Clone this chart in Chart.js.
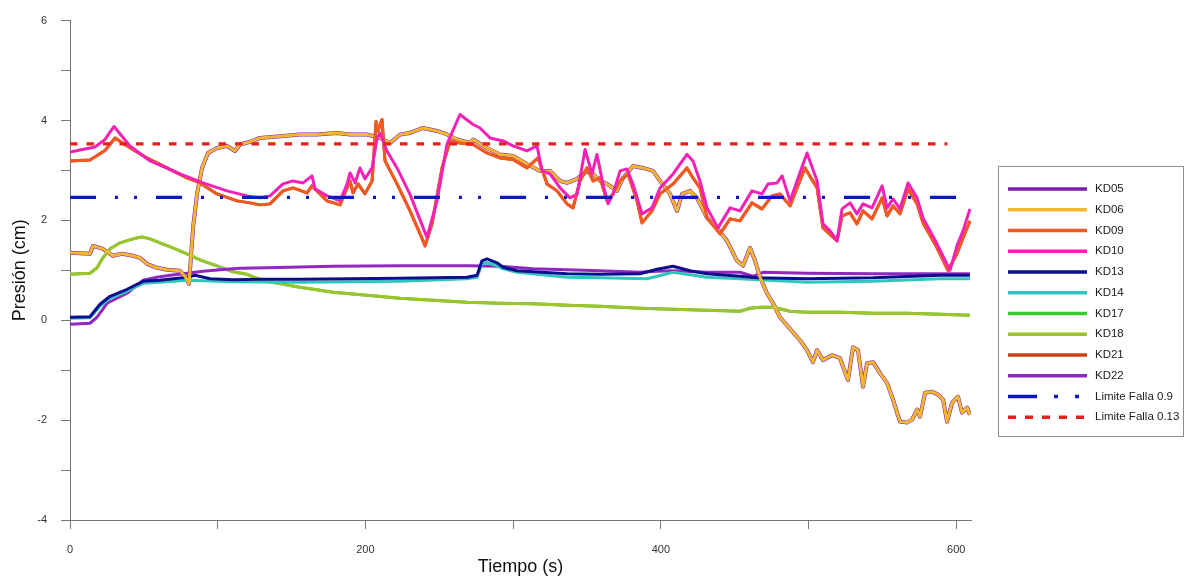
<!DOCTYPE html>
<html>
<head>
<meta charset="utf-8">
<title>Presión vs Tiempo</title>
<script src="https://cdn.jsdelivr.net/npm/chart.js@4.4.1/dist/chart.umd.min.js"></script>
<style>
    html, body { margin: 0; padding: 0; background: #fff; }
    #wrap { width: 1184px; height: 578px; position: relative; }
</style>
</head>
<body>
<div id="wrap"><canvas id="presionChart"></canvas></div>
<script>
// --- Data ---
const kd06T = [0, 13.5, 15.6, 22.3, 29.1, 35.2, 42.7, 47.4, 52.1, 58.9, 65.7, 74.5, 78.5, 80.6, 83.3, 86.0, 89.4, 93.4, 99.5, 106.3,
    111.7, 115.1, 123.9, 128.6, 144.2, 155.7, 167.2, 180.8, 189.6, 201.1, 209.9, 216.7, 223.4, 230.2, 239.0, 248.5, 255.2, 262.0, 270.8, 272.9,
    282.3, 291.1, 299.9, 309.4, 318.2, 325.0, 331.8, 336.5, 343.3, 350.0, 354.1, 358.8, 363.6, 370.3, 374.4, 381.2, 387.9, 394.7, 399.5, 406.2,
    411.0, 414.4, 419.8, 424.5, 431.3, 438.1, 444.8, 451.6, 455.7, 460.4, 463.8, 467.2, 471.9, 476.0, 480.7, 485.4, 489.5, 494.2, 499.0, 503.0,
    505.8, 509.8, 515.9, 521.3, 526.7, 530.1, 533.5, 536.9, 539.6, 543.7, 548.4, 553.2, 557.2, 561.9, 566.7, 570.1, 573.5, 575.5, 578.9, 583.6,
    587.7, 591.1, 593.8, 597.2, 601.2, 603.9, 607.3, 609.3];
const kd06V = [1.35, 1.33, 1.49, 1.43, 1.29, 1.33, 1.29, 1.25, 1.13, 1.05, 1.01, 0.99, 0.85, 0.73, 1.85, 2.53, 3.05, 3.35, 3.45, 3.49,
    3.39, 3.52, 3.59, 3.65, 3.69, 3.72, 3.72, 3.75, 3.72, 3.72, 3.65, 3.55, 3.72, 3.75, 3.85, 3.79, 3.72, 3.62, 3.55, 3.62,
    3.45, 3.32, 3.29, 3.13, 2.99, 2.99, 2.79, 2.75, 2.83, 2.99, 2.93, 2.79, 2.73, 2.59, 2.85, 3.09, 3.05, 2.99, 2.79, 2.53,
    2.19, 2.53, 2.59, 2.45, 2.05, 1.85, 1.59, 1.19, 1.09, 1.45, 1.19, 0.86, 0.54, 0.34, 0.06, -0.10, -0.24, -0.40, -0.60, -0.84,
    -0.60, -0.80, -0.70, -0.76, -1.20, -0.54, -0.60, -1.33, -0.86, -0.84, -1.06, -1.26, -1.59, -2.03, -2.05, -1.99, -1.79, -1.93, -1.45, -1.43,
    -1.49, -1.59, -2.03, -1.65, -1.53, -1.85, -1.75, -1.89];

const kd09T = [0, 13.5, 23.7, 30.5, 38.6, 52.1, 65.7, 79.2, 88.0, 99.5, 113.1, 121.9, 128.6, 135.4, 144.2, 151.0, 160.5, 163.8, 174.0, 182.8,
    189.6, 191.6, 195.0, 199.7, 204.5, 207.2, 208.5, 211.2, 213.3, 221.4, 230.2, 237.0, 240.4, 245.1, 251.9, 257.3, 264.0, 272.9, 282.3, 291.1,
    299.9, 309.4, 316.9, 323.0, 329.7, 336.5, 340.6, 345.3, 350.0, 354.1, 358.8, 363.6, 367.6, 372.4, 377.8, 383.9, 387.3, 394.0, 399.5, 408.3,
    417.7, 421.8, 426.5, 431.3, 440.1, 446.9, 453.6, 461.7, 468.5, 475.3, 480.7, 487.5, 492.2, 497.6, 505.8, 509.8, 519.3, 522.7, 528.1, 532.8,
    536.9, 543.0, 549.8, 553.2, 557.2, 561.9, 567.4, 573.5, 577.5, 587.0, 594.4, 600.5, 604.6, 609.3];
const kd09V = [3.19, 3.21, 3.40, 3.65, 3.49, 3.25, 3.05, 2.85, 2.75, 2.53, 2.39, 2.35, 2.31, 2.33, 2.59, 2.65, 2.55, 2.69, 2.39, 2.31,
    2.79, 2.55, 2.73, 2.53, 2.79, 3.98, 3.79, 4.02, 3.19, 2.73, 2.19, 1.73, 1.49, 1.93, 3.05, 3.59, 3.55, 3.52, 3.35, 3.25,
    3.22, 3.05, 3.25, 2.73, 2.59, 2.33, 2.25, 2.79, 3.05, 2.79, 2.85, 2.39, 2.53, 2.79, 2.93, 2.39, 1.95, 2.19, 2.53, 2.73,
    3.05, 2.85, 2.65, 2.05, 1.73, 2.03, 1.99, 2.35, 2.23, 2.49, 2.53, 2.29, 2.65, 3.05, 2.65, 1.85, 1.59, 2.09, 2.15, 1.93,
    2.19, 2.03, 2.45, 2.09, 2.29, 2.13, 2.63, 2.33, 1.95, 1.45, 1.00, 1.33, 1.65, 1.99];

const kd10T = [0, 16.9, 23.7, 29.8, 40.6, 54.2, 74.5, 90.0, 106.3, 119.8, 128.6, 135.4, 144.2, 151.0, 157.8, 163.8, 165.9, 174.0, 182.8, 187.5,
    189.6, 193.0, 196.3, 199.7, 204.5, 207.9, 209.9, 214.6, 221.4, 230.2, 239.0, 241.7, 248.5, 255.2, 264.0, 272.9, 277.6, 284.4, 293.2, 299.9,
    309.4, 316.2, 319.6, 325.0, 331.8, 338.5, 343.3, 348.7, 353.4, 356.8, 360.9, 364.3, 367.6, 372.4, 377.1, 381.2, 387.3, 394.0, 399.5, 408.3,
    417.7, 421.8, 426.5, 431.3, 438.7, 446.9, 453.6, 461.7, 468.5, 472.6, 478.7, 482.1, 487.5, 492.2, 499.0, 505.8, 509.8, 514.6, 519.3, 522.7,
    528.1, 532.8, 536.9, 543.0, 549.8, 553.2, 557.2, 561.9, 567.4, 573.5, 577.5, 587.0, 595.8, 600.5, 604.6, 609.3];
const kd10V = [3.37, 3.47, 3.62, 3.88, 3.49, 3.19, 2.93, 2.75, 2.59, 2.49, 2.45, 2.49, 2.73, 2.79, 2.75, 2.89, 2.63, 2.49, 2.39, 2.72,
    2.95, 2.75, 3.05, 2.83, 3.05, 3.65, 3.75, 3.39, 3.05, 2.52, 1.86, 1.66, 2.39, 3.52, 4.12, 3.92, 3.85, 3.65, 3.59, 3.49,
    3.39, 3.49, 2.99, 2.93, 2.65, 2.45, 2.52, 3.42, 2.93, 3.32, 2.72, 2.33, 2.52, 2.99, 3.03, 2.72, 2.13, 2.25, 2.65, 2.93,
    3.32, 3.19, 2.79, 2.25, 1.85, 2.25, 2.19, 2.59, 2.53, 2.73, 2.75, 2.89, 2.39, 2.79, 3.35, 2.79, 1.93, 1.79, 1.59, 2.23,
    2.35, 2.13, 2.33, 2.25, 2.69, 2.25, 2.43, 2.23, 2.75, 2.45, 2.05, 1.53, 1.00, 1.49, 1.79, 2.23];

const kd13T = [0, 13.5, 20.3, 27.1, 38.6, 49.4, 60.9, 79.2, 84.6, 94.8, 110.4, 128.6, 155.7, 223.4, 268.8, 275.6, 278.9, 282.3, 289.1, 293.2,
    302.6, 336.5, 358.8, 385.9, 397.4, 408.3, 419.8, 431.3, 453.6, 465.1, 499.0, 543.7, 589.0, 609.3];
const kd13V = [0.06, 0.07, 0.32, 0.48, 0.62, 0.78, 0.80, 0.86, 0.90, 0.83, 0.81, 0.82, 0.82, 0.84, 0.86, 0.90, 1.19, 1.23, 1.15, 1.06,
    0.99, 0.93, 0.92, 0.93, 1.02, 1.08, 0.99, 0.93, 0.88, 0.85, 0.83, 0.85, 0.90, 0.90];

const kd14T = [0, 13.5, 20.3, 27.1, 38.6, 49.4, 60.9, 79.2, 110.4, 155.7, 223.4, 268.8, 275.6, 278.9, 282.3, 289.1, 293.2, 302.6, 336.5, 358.8,
    390.7, 408.3, 431.3, 453.6, 499.0, 543.7, 589.0, 609.3];
const kd14V = [0.04, 0.05, 0.28, 0.44, 0.58, 0.74, 0.76, 0.80, 0.77, 0.76, 0.78, 0.83, 0.86, 1.13, 1.15, 1.09, 1.03, 0.96, 0.86, 0.85,
    0.83, 0.96, 0.86, 0.83, 0.76, 0.78, 0.83, 0.83];

const kd18T = [0, 13.5, 18.3, 22.3, 27.1, 33.9, 42.7, 48.7, 54.2, 60.9, 69.7, 79.2, 88.0, 99.5, 110.4, 119.8, 128.6, 133.4, 155.7, 178.1,
    201.1, 223.4, 245.8, 268.8, 291.1, 313.5, 336.5, 358.8, 385.9, 408.3, 431.3, 453.6, 460.4, 467.2, 476.0, 487.5, 499.0, 521.3, 543.7, 566.7,
    589.0, 609.3];
const kd18V = [0.92, 0.94, 1.05, 1.25, 1.43, 1.55, 1.63, 1.67, 1.63, 1.55, 1.45, 1.33, 1.21, 1.09, 0.97, 0.92, 0.82, 0.78, 0.66, 0.56,
    0.50, 0.44, 0.40, 0.36, 0.34, 0.33, 0.30, 0.28, 0.24, 0.22, 0.20, 0.18, 0.24, 0.26, 0.26, 0.18, 0.16, 0.16, 0.14, 0.14,
    0.12, 0.10];

const kd22T = [0, 13.5, 18.3, 25.1, 31.8, 38.6, 45.4, 49.4, 58.9, 67.7, 79.2, 90.0, 101.6, 115.1, 133.4, 178.1, 223.4, 268.8, 291.1, 313.5,
    336.5, 358.8, 385.9, 397.4, 408.3, 431.3, 453.6, 462.4, 469.2, 499.0, 543.7, 589.0, 609.3];
const kd22V = [-0.08, -0.06, 0.06, 0.34, 0.44, 0.54, 0.70, 0.80, 0.86, 0.90, 0.94, 0.98, 1.01, 1.04, 1.05, 1.08, 1.09, 1.09, 1.08, 1.03,
    1.01, 0.99, 0.96, 0.98, 0.99, 0.96, 0.96, 0.88, 0.96, 0.94, 0.93, 0.93, 0.93];

// KD05 runs under KD06, KD17 under KD18, KD21 under KD09
const kd05T = kd06T, kd05V = kd06V;
const kd17T = kd18T, kd17V = kd18V;
const kd21T = kd09T, kd21V = kd09V;

const limit09T = [0, 600];
const limit09V = [2.46, 2.46];
const limit013T = [0, 594];
const limit013V = [3.53, 3.53];

const seriesLabels = ['KD05', 'KD06', 'KD09', 'KD10', 'KD13', 'KD14', 'KD17', 'KD18', 'KD21', 'KD22', 'Limite Falla 0.9', 'Limite Falla 0.13'];
const xTickMarks = [0, 100, 200, 300, 400, 500, 600];
const xTicks = [0, 200, 400, 600];
const yTicks = [-4, -2, 0, 2, 4, 6];

// --- Helpers ---
function toPoints(ts, vs) {
    return ts.map((t, i) => ({ x: t, y: vs[i] }));
}

function makeSeries(label, ts, vs, color, order, width) {
    return {
        label: label,
        data: toPoints(ts, vs),
        borderColor: color,
        borderWidth: width || 3,
        order: order
    };
}

const datasets = [
    makeSeries('KD05', kd05T, kd05V, '#7b1fa8', 10, 4),
    makeSeries('KD06', kd06T, kd06V, '#f3b631', 3),
    makeSeries('KD09', kd09T, kd09V, '#f25a22', 2),
    makeSeries('KD10', kd10T, kd10V, '#f321b6', 1),
    makeSeries('KD13', kd13T, kd13V, '#0d0d8e', 5),
    makeSeries('KD14', kd14T, kd14V, '#30c6be', 6),
    makeSeries('KD17', kd17T, kd17V, '#3cc832', 11),
    makeSeries('KD18', kd18T, kd18V, '#9dc42c', 8),
    makeSeries('KD21', kd21T, kd21V, '#c94515', 12),
    makeSeries('KD22', kd22T, kd22V, '#9127c1', 7),
    Object.assign(makeSeries('Limite Falla 0.9', limit09T, limit09V, '#0b16c6', 0, 3.2),
        { borderDash: [26, 19, 3, 16, 3, 19], legendDash: [29, 17, 4, 17, 4, 20] }),
    Object.assign(makeSeries('Limite Falla 0.13', limit013T, limit013V, '#e6201f', 0, 3.2),
        { borderDash: [7.5, 9], legendDash: [8, 9] })
];

// --- Boxed legend on the right ---
const boxLegend = {
    id: 'boxLegend',
    afterDraw(chart) {
        const ctx = chart.ctx;
        ctx.save();
        ctx.strokeStyle = '#8f8f8f';
        ctx.lineWidth = 1;
        ctx.strokeRect(998.5, 166.5, 185, 270);
        chart.data.datasets.forEach((ds, i) => {
            const y = 189 + i * 20.75;
            ctx.beginPath();
            ctx.strokeStyle = ds.borderColor;
            ctx.lineWidth = 3.6;
            ctx.setLineDash(ds.legendDash || []);
            ctx.moveTo(1008, y);
            ctx.lineTo(1087, y);
            ctx.stroke();
            ctx.setLineDash([]);
            ctx.fillStyle = '#222';
            ctx.font = '11.5px "Liberation Sans", Arial, sans-serif';
            ctx.textBaseline = 'middle';
            ctx.textAlign = 'left';
            ctx.fillText(seriesLabels[i], 1095, y);
        });
        ctx.restore();
    }
};

// --- Chart ---
const ctx = document.getElementById('presionChart').getContext('2d');
new Chart(ctx, {
    type: 'line',
    data: { datasets: datasets },
    options: {
        responsive: true,
        maintainAspectRatio: false,
        animation: false,
        layout: { padding: { top: 18, right: 213, left: 0, bottom: 0 } },
        elements: {
            point: { radius: 0 },
            line: { tension: 0, borderJoinStyle: 'round', borderCapStyle: 'butt', fill: false }
        },
        plugins: {
            legend: { display: false },
            tooltip: { enabled: false }
        },
        scales: {
            x: {
                type: 'linear',
                min: 0,
                max: 610,
                afterFit: (scale) => { scale.height = 58; },
                afterBuildTicks: (scale) => {
                    scale.ticks = xTickMarks.map(v => ({ value: v }));
                },
                ticks: {
                    autoSkip: false,
                    maxRotation: 0,
                    padding: 14,
                    color: '#333',
                    font: { family: 'Liberation Sans', size: 11 },
                    callback: (v) => xTicks.includes(v) ? String(v) : ''
                },
                grid: { drawOnChartArea: false, drawTicks: true, tickLength: 9, color: '#777' },
                border: { display: true, color: '#777', width: 1 },
                title: {
                    display: true,
                    text: 'Tiempo (s)',
                    color: '#111',
                    font: { family: 'Liberation Sans', size: 18 },
                    padding: { top: 0, bottom: 0 }
                }
            },
            y: {
                min: -4,
                max: 6,
                afterFit: (scale) => { scale.width = 70; },
                ticks: {
                    stepSize: 1,
                    autoSkip: false,
                    padding: 14,
                    color: '#333',
                    font: { family: 'Liberation Sans', size: 11 },
                    callback: (v) => yTicks.includes(v) ? String(v) : ''
                },
                grid: { drawOnChartArea: false, drawTicks: true, tickLength: 9, color: '#777' },
                border: { display: true, color: '#777', width: 1 },
                title: {
                    display: true,
                    text: 'Presión (cm)',
                    color: '#111',
                    font: { family: 'Liberation Sans', size: 18 },
                    padding: { top: 9, bottom: 0 }
                }
            }
        }
    },
    plugins: [boxLegend]
});
</script>
</body>
</html>
